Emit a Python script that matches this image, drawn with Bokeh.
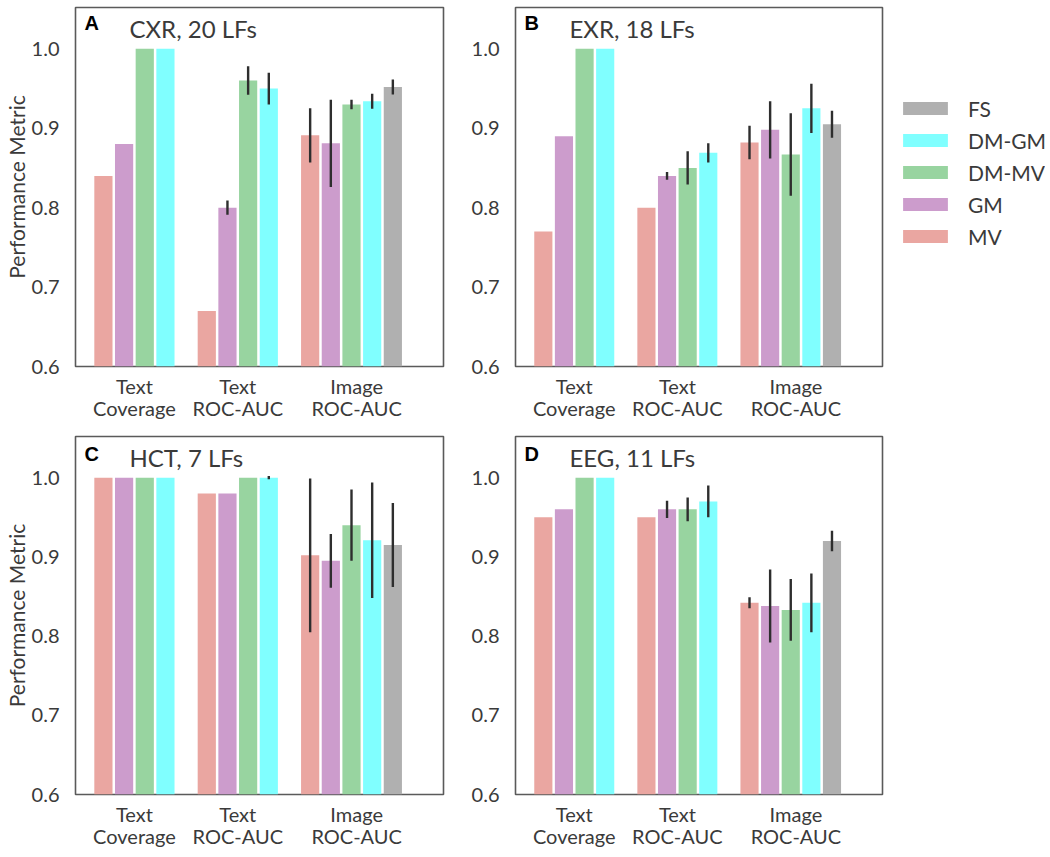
import math
from bokeh.plotting import figure
from bokeh.layouts import column, row
from bokeh.models import (Range1d, FixedTicker, Label, Legend, LegendItem,
                          NumeralTickFormatter)
from bokeh.embed import file_html
from bokeh.resources import INLINE

NAN = float("nan")

# ---------------- data ----------------
categories = ["Text\nCoverage", "Text\nROC-AUC", "Image\nROC-AUC"]
series = ["MV", "GM", "DM-MV", "DM-GM", "FS"]
colors = ["#eaa6a1", "#cc9ccc", "#98d4a0", "#80ffff", "#b0b0b0"]
yticks = [0.6, 0.7, 0.8, 0.9, 1.0]
panel_letters = ["A", "B", "C", "D"]
panel_titles = ["CXR, 20 LFs", "EXR, 18 LFs", "HCT, 7 LFs", "EEG, 11 LFs"]
y_label = "Performance Metric"

# rows follow `series`, columns follow `categories`
cxr_mean = [[0.84, 0.67, 0.891], [0.88, 0.80, 0.881], [1.0, 0.96, 0.930],
            [1.0, 0.95, 0.934], [NAN, NAN, 0.952]]
cxr_err = [[0, 0, 0.034], [0, 0.009, 0.055], [0, 0.018, 0.006],
           [0, 0.020, 0.0095], [0, 0, 0.0095]]

exr_mean = [[0.77, 0.80, 0.882], [0.89, 0.84, 0.898], [1.0, 0.85, 0.867],
            [1.0, 0.869, 0.925], [NAN, NAN, 0.905]]
exr_err = [[0, 0, 0.021], [0, 0.005, 0.036], [0, 0.021, 0.052],
           [0, 0.012, 0.031], [0, 0, 0.017]]

hct_mean = [[1.0, 0.98, 0.902], [1.0, 0.98, 0.895], [1.0, 1.0, 0.940],
            [1.0, 1.0, 0.921], [NAN, NAN, 0.915]]
hct_err = [[0, 0, 0.097], [0, 0, 0.034], [0, 0, 0.045],
           [0, 0.002, 0.073], [0, 0, 0.053]]

eeg_mean = [[0.95, 0.95, 0.842], [0.96, 0.96, 0.838], [1.0, 0.96, 0.833],
            [1.0, 0.97, 0.842], [NAN, NAN, 0.920]]
eeg_err = [[0, 0, 0.007], [0, 0.011, 0.046], [0, 0.015, 0.039],
           [0, 0.020, 0.037], [0, 0, 0.013]]

# ---------------- style ----------------
FONT = "Lato"
TXT = "#3a3a3a"
n_ser = len(series)
tick_pos = [1.5, 6.5, 12.25]


def bar_data(mean, s):
    xs, tops = [], []
    for g in range(len(categories)):
        v = mean[s][g]
        if v is None or math.isnan(v):
            continue
        xs.append(g * n_ser + s)
        tops.append(v)
    return xs, tops


def make_panel(mean, err, idx, width, height, bl, br, bt, bb, ylab,
               letter_dy, title_dy):
    p = figure(width=width, height=height,
               x_range=Range1d(-1.35, 16.45), y_range=Range1d(0.6, 1.052),
               output_backend="svg", toolbar_location=None,
               min_border_left=bl, min_border_right=br,
               min_border_top=bt, min_border_bottom=bb)
    p.grid.visible = False
    p.outline_line_color = "#5a5a5a"
    p.outline_line_width = 1.6
    p.background_fill_color = "white"
    p.border_fill_color = "white"

    for s in range(n_ser):
        xs, tops = bar_data(mean, s)
        p.vbar(x=xs, top=tops, bottom=0, width=0.88,
               fill_color=colors[s], line_color=None)
        ex, lo, hi = [], [], []
        for x, v in zip(xs, tops):
            e = err[s][x // n_ser]
            if e > 0:
                ex.append(x)
                lo.append(v - e)
                hi.append(v + e)
        if ex:
            p.segment(x0=ex, y0=lo, x1=ex, y1=hi,
                      line_color="#2e2e2e", line_width=2.4)

    xa = p.xaxis[0]
    xa.ticker = FixedTicker(ticks=tick_pos)
    xa.major_label_overrides = {t: c for t, c in zip(tick_pos, categories)}
    ya = p.yaxis[0]
    ya.ticker = FixedTicker(ticks=yticks)
    ya.formatter = NumeralTickFormatter(format="0.0")
    for ax in (xa, ya):
        ax.axis_line_color = None
        ax.major_tick_line_color = None
        ax.minor_tick_line_color = None
        ax.major_label_text_font = FONT
        ax.major_label_text_font_size = "20px"
        ax.major_label_text_color = TXT
    xa.major_label_standoff = 1
    xa.major_label_text_line_height = 0.95
    ya.major_label_standoff = 10
    if ylab:
        ya.axis_label = y_label
        ya.axis_label_text_font = FONT
        ya.axis_label_text_font_size = "21px"
        ya.axis_label_text_font_style = "normal"
        ya.axis_label_text_color = TXT
        ya.axis_label_text_line_height = 1.0
        ya.axis_label_standoff = 0

    fh = height - bt - bb
    p.add_layout(Label(x=9, y=fh - letter_dy, x_units="screen",
                       y_units="screen", text=panel_letters[idx],
                       text_font="Liberation Sans", text_font_style="bold",
                       text_font_size="20px", text_color="black",
                       text_baseline="middle"))
    p.add_layout(Label(x=54, y=fh - title_dy, x_units="screen",
                       y_units="screen", text=panel_titles[idx],
                       text_font=FONT, text_font_size="24px",
                       text_color=TXT, text_baseline="middle"))
    return p


pA = make_panel(cxr_mean, cxr_err, 0, 450, 426, 74, 7, 7, 60, True, 15, 21)
pB = make_panel(exr_mean, exr_err, 1, 440, 426, 65, 8, 7, 60, False, 15, 21)
pC = make_panel(hct_mean, hct_err, 2, 450, 429, 74, 7, 10, 61, True, 17, 21)
pD = make_panel(eeg_mean, eeg_err, 3, 440, 429, 65, 8, 10, 61, False, 17, 21)

# legend panel: hidden copies of panel B's bars serve as legend swatches
pL = figure(width=155, height=426, x_range=Range1d(-1.35, 16.45),
            y_range=Range1d(0.6, 1.052), output_backend="svg",
            toolbar_location=None, x_axis_location=None, y_axis_location=None,
            min_border_left=0, min_border_right=0, min_border_top=0,
            min_border_bottom=0)
pL.grid.visible = False
pL.outline_line_color = None
items = []
for s in reversed(range(n_ser)):
    xs, tops = bar_data(exr_mean, s)
    r = pL.vbar(x=xs, top=tops, bottom=0, width=0.88,
                fill_color=colors[s], line_color=None, visible=False)
    items.append(LegendItem(label=series[s], renderers=[r]))
legend = Legend(items=items, location=(7, 117),
                glyph_width=56, glyph_height=16, label_height=26,
                label_standoff=15, spacing=6, padding=0, margin=0,
                label_text_font=FONT, label_text_font_size="21px",
                label_text_color=TXT, border_line_color=None,
                background_fill_alpha=0)
pL.add_layout(legend, "center")

layout = column(row(pA, pB, pL), row(pC, pD))
open("out.html", "w").write(file_html(layout, INLINE))
